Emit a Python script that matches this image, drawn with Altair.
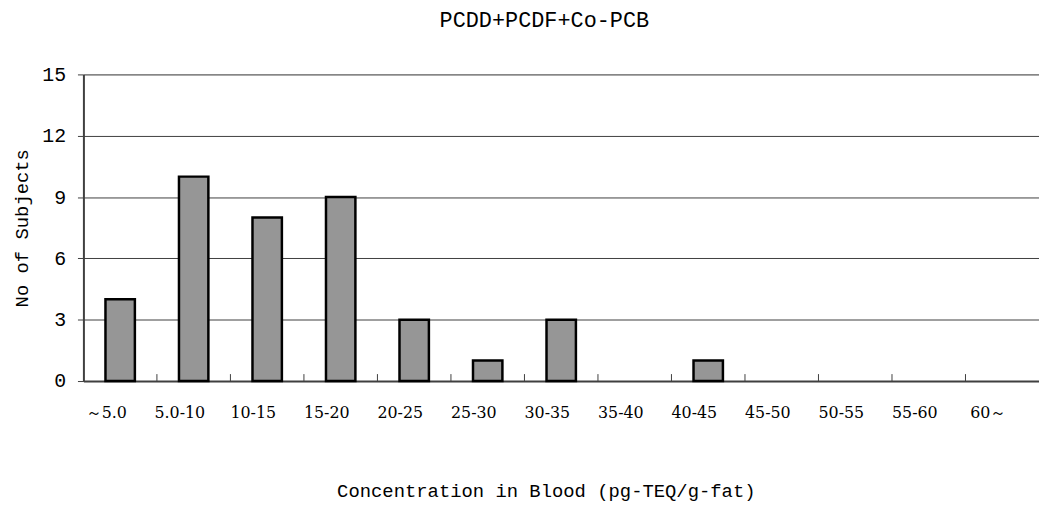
import altair as alt
import pandas as pd

categories = ["～5.0", "5.0-10", "10-15", "15-20", "20-25", "25-30", "30-35",
              "35-40", "40-45", "45-50", "50-55", "55-60", "60～"]
subjects = [4, 10, 8, 9, 3, 1, 3, 0, 1, 0, 0, 0, 0]
y_ticks = [0, 3, 6, 9, 12, 15]

df = pd.DataFrame({"cat": categories, "n": subjects})

PLOT_W = 963
PLOT_H = 309
STEP = PLOT_W / 13.0

x_scale = alt.Scale(domain=categories, paddingInner=0.6, paddingOuter=0.3)
y_scale = alt.Scale(domain=[0, 15], nice=False, zero=True)

x_enc = alt.X("cat:N", sort=categories, scale=x_scale,
              axis=alt.Axis(title="Concentration in Blood (pg-TEQ/g-fat)",
                            labelAngle=0, labelFont="DejaVu Serif", labelFontSize=16,
                            labelColor="black", labelPadding=24, labelOffset=-14,
                            ticks=False, tickSize=0, domainColor="#404040", domainWidth=2,
                            titleFont="Liberation Mono", titleFontSize=19,
                            titleFontWeight="normal", titleColor="black",
                            titleX=466, titleY=110, titleBaseline="middle",
                            titleAlign="center", grid=False))

bars = alt.Chart(df).transform_filter("datum.n > 0").mark_bar(
    color="#969696", stroke="black", strokeWidth=2.5
).encode(
    x=x_enc,
    y=alt.Y("n:Q", scale=y_scale,
            axis=alt.Axis(title="No of Subjects", values=y_ticks,
                          labelFont="Liberation Mono", labelFontSize=20,
                          labelColor="black", labelPadding=12, tickSize=6,
                          tickColor="#404040", domainColor="#404040", domainWidth=2,
                          grid=True, gridColor="#404040", gridWidth=1,
                          titleFont="Liberation Mono", titleFontSize=19,
                          titleFontWeight="normal", titleColor="black",
                          titleAngle=270, titleX=-62, titleY=PLOT_H / 2,
                          titleBaseline="middle", titleAlign="center")),
)

ticks = alt.Chart(df).transform_filter("datum.cat != '～5.0'").mark_rule(
    color="#404040", strokeWidth=1, xOffset=-STEP / 2
).encode(
    x=alt.X("cat:N", sort=categories, scale=x_scale),
    y=alt.value(PLOT_H - 7),
    y2=alt.value(PLOT_H),
)

chart = alt.layer(bars, ticks).properties(
    width=PLOT_W,
    height=PLOT_H,
    title=alt.TitleParams(text="PCDD+PCDF+Co-PCB", font="Liberation Mono",
                          fontSize=22, fontWeight="normal", color="black",
                          anchor="middle", dx=-17, offset=16, baseline="alphabetic"),
    autosize=alt.AutoSizeParams(type="none"),
    padding={"left": 76, "top": 65, "right": 0, "bottom": 125},
).configure_view(stroke=None).configure(background="white")

chart.save("out.html", embed_options={"renderer": "svg", "actions": False})
